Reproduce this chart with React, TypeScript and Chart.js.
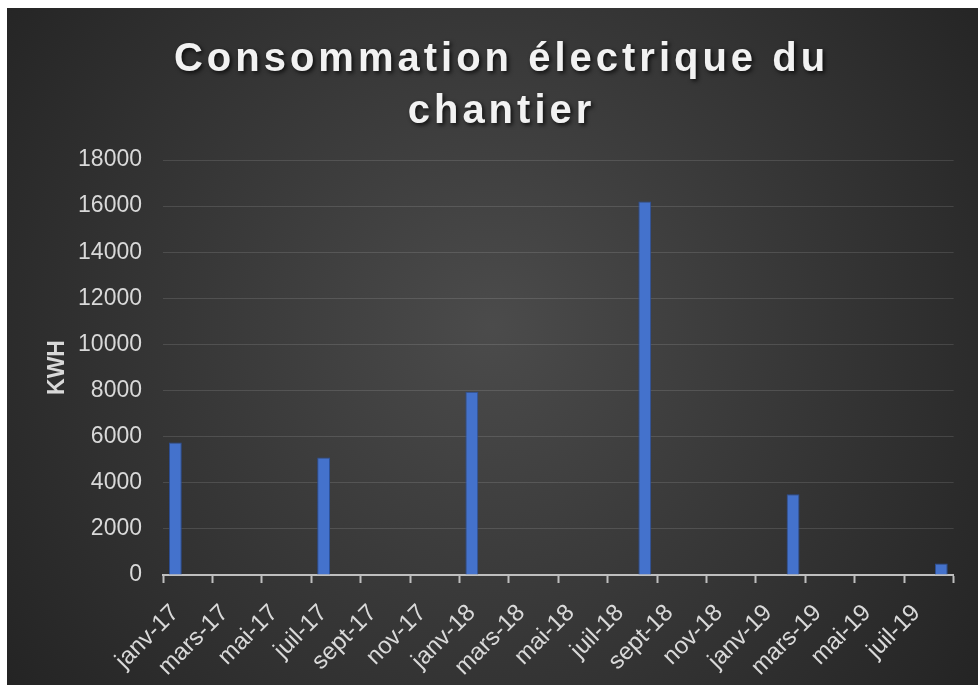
import React, { useEffect, useRef } from "react";
import { Chart, registerables } from "chart.js";

Chart.register(...registerables);

const categories = [
  "janv-17", "févr-17", "mars-17", "avr-17", "mai-17", "juin-17",
  "juil-17", "août-17", "sept-17", "oct-17", "nov-17", "déc-17",
  "janv-18", "févr-18", "mars-18", "avr-18", "mai-18", "juin-18",
  "juil-18", "août-18", "sept-18", "oct-18", "nov-18", "déc-18",
  "janv-19", "févr-19", "mars-19", "avr-19", "mai-19", "juin-19",
  "juil-19", "août-19",
];

const consumption: (number | null)[] = [
  5750, null, null, null, null, null,
  5100, null, null, null, null, null,
  7950, null, null, null, null, null,
  null, 16200, null, null, null, null,
  null, 3500, null, null, null, null,
  null, 500,
];

const yTicks = [0, 2000, 4000, 6000, 8000, 10000, 12000, 14000, 16000, 18000];

const titleLines = ["Consommation électrique du", "chantier"];
const yAxisTitle = "KWH";

const bgPlugin = {
  id: "bgPlugin",
  beforeDraw(chart: any) {
    const { ctx, width, height } = chart;
    ctx.save();
    const g = ctx.createRadialGradient(width * 0.5, height * 0.47, 0, width * 0.5, height * 0.47, width * 0.62);
    g.addColorStop(0, "#4b4b4b");
    g.addColorStop(1, "#242424");
    ctx.fillStyle = g;
    ctx.fillRect(0, 0, width, height);
    ctx.restore();
  },
  afterInit(chart: any) {
    const tb = chart.titleBlock;
    if (tb && !tb.__wrapped) {
      const orig = tb.draw.bind(tb);
      tb.draw = (area: any) => {
        const c = chart.ctx;
        c.save();
        c.translate(20, 0);
        (c as any).letterSpacing = "4px";
        c.shadowColor = "rgba(0,0,0,0.75)";
        c.shadowBlur = 4;
        c.shadowOffsetX = 2;
        c.shadowOffsetY = 2;
        orig(area);
        c.restore();
      };
      tb.__wrapped = true;
    }
  },
};

export default function App() {
  const ref = useRef<HTMLCanvasElement | null>(null);

  useEffect(() => {
    if (!ref.current) return;
    const chart = new Chart(ref.current, {
      type: "bar",
      data: {
        labels: categories,
        datasets: [
          {
            label: "KWH",
            data: consumption,
            backgroundColor: "#4472cc",
            borderColor: "#2c4f96",
            borderWidth: 1,
            categoryPercentage: 1,
            barPercentage: 0.52,
          },
        ],
      },
      options: {
        animation: false,
        responsive: true,
        maintainAspectRatio: false,
        layout: { padding: { left: 0, right: 22, top: 0, bottom: 0 } },
        plugins: {
          legend: { display: false },
          tooltip: { enabled: false },
          title: {
            display: true,
            text: titleLines,
            color: "#f2f2f2",
            font: { family: "'Liberation Sans', Arial, sans-serif", size: 40, weight: "bold", lineHeight: 1.3 },
            padding: { top: 26, bottom: 22 },
          },
        },
        scales: {
          x: {
            offset: true,
            grid: {
              offset: true,
              drawOnChartArea: false,
              drawTicks: true,
              tickLength: 8,
              tickWidth: 2,
              tickColor: (ctx: any) =>
                ctx.index === undefined || ctx.index % 2 === 0 ? "#bfbfbf" : "rgba(0,0,0,0)",
            },
            border: { display: true, color: "#bfbfbf", width: 2 },
            ticks: {
              autoSkip: false,
              maxRotation: 45,
              minRotation: 45,
              padding: 16,
              color: "#d9d9d9",
              font: { family: "'Liberation Sans', Arial, sans-serif", size: 24 },
              callback: (_v: any, i: number) => (i % 2 === 0 ? categories[i] : ""),
            },
            afterFit: (scale: any) => {
              scale.height = 110;
            },
          },
          y: {
            min: 0,
            max: 18000,
            afterBuildTicks: (scale: any) => {
              scale.ticks = yTicks.map((v) => ({ value: v }));
            },
            grid: {
              color: "rgba(255,255,255,0.12)",
              lineWidth: 1,
              drawTicks: false,
            },
            border: { display: false },
            ticks: {
              padding: 21,
              color: "#d9d9d9",
              font: { family: "'Liberation Sans', Arial, sans-serif", size: 23 },
              callback: (v: any) => String(v),
            },
            title: {
              display: true,
              text: yAxisTitle,
              color: "#d9d9d9",
              font: { family: "'Liberation Sans', Arial, sans-serif", size: 23, weight: "bold", lineHeight: 1.2 },
              padding: { top: 37, bottom: 0 },
            },
            afterFit: (scale: any) => {
              scale.width = 156;
            },
          },
        },
      },
      plugins: [bgPlugin],
    });
    return () => chart.destroy();
  }, []);

  return (
    <div style={{ position: "fixed", left: 7, top: 8, width: 971, height: 677 }}>
      <canvas ref={ref} />
    </div>
  );
}
